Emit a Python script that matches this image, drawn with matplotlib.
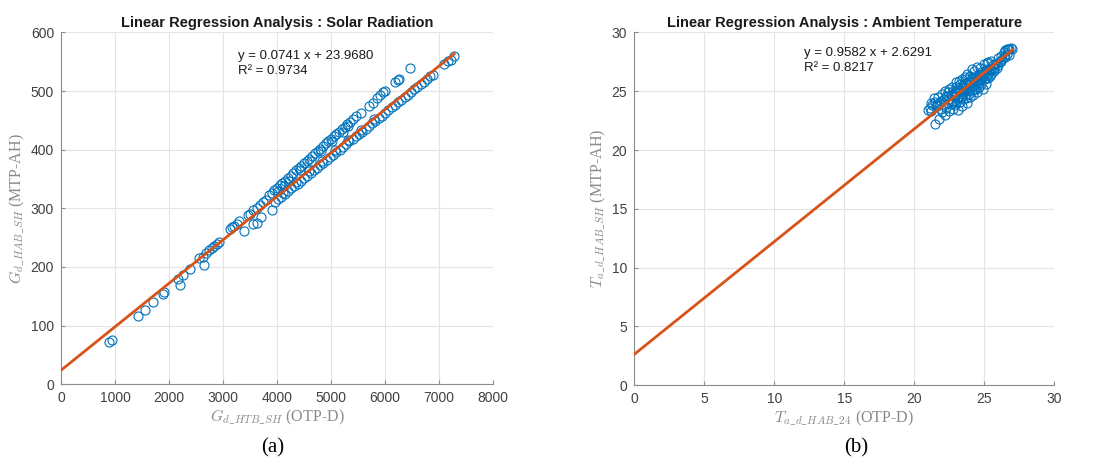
import numpy as np
import matplotlib
matplotlib.use('Agg')
import matplotlib.pyplot as plt

plt.rcParams['mathtext.fontset'] = 'cm'
plt.rcParams['font.family'] = ['Liberation Sans', 'DejaVu Sans']

# ── Data ─────────────────────────────────────────────────────────────────────
# (a) solar radiation: OTP-D (x) vs MTP-AH (y)
solar_x = [880, 940, 1420, 1560, 1700, 1880, 1900, 2160, 2200, 2250, 2380, 2640,
           3380, 3560, 3620, 3700, 3900,
           # upper streak
           2560, 2620, 2680, 2740, 2790, 2840, 2880, 2920, 3120, 3160, 3200, 3250,
           3300, 3460, 3500, 3560, 3620, 3680, 3740, 3790, 3850, 3900, 3950, 4000,
           4050, 4100, 4150, 4200, 4250, 4300, 4350, 4400, 4450, 4500, 4550, 4600,
           4650, 4700, 4750, 4800, 4850, 4900, 4950, 5000, 5050, 5100, 5150, 5200,
           5250, 5300, 5350, 5400, 5460, 5560, 5700, 5780, 5850, 5900, 5960, 6000,
           6180, 6240, 6260, 6460, 4020, 4120, 4220, 4420, 4620, 4820, 5020, 5220,
           5320,
           # lower streak
           3960, 4020, 4080, 4140, 4200, 4260, 4320, 4380, 4440, 4500, 4560, 4620,
           4680, 4740, 4800, 4860, 4920, 4980, 5040, 5100, 5160, 5220, 5280, 5340,
           5400, 5460, 5520, 5580, 5640, 5700, 5760, 5820, 5880, 5940, 6000, 6060,
           6120, 6180, 6240, 6300, 6360, 6420, 6480, 6540, 6600, 6660, 6720, 6780,
           6840, 6880, 7100, 7160, 7220, 7280, 4110, 4350, 4590, 4830, 5070, 5310,
           5550, 5790]
solar_y = [72, 76, 117, 127, 140, 154, 157, 180, 169, 187, 197, 203,
           261, 273, 275, 285, 298,
           215, 217, 224, 229, 232, 236, 239, 243, 264, 268, 270, 274,
           278, 288, 291, 297, 301, 305, 310, 314, 322, 327, 331, 334,
           339, 343, 347, 351, 356, 360, 365, 369, 373, 377, 381, 385,
           390, 394, 398, 402, 406, 411, 415, 419, 423, 427, 431, 435,
           439, 444, 448, 452, 457, 462, 474, 480, 489, 493, 498, 500,
           516, 519, 521, 539, 330, 338, 347, 365, 381, 398, 414, 431,
           440,
           311, 316, 320, 325, 329, 334, 338, 342, 347, 351, 356, 360,
           365, 369, 374, 378, 383, 387, 391, 396, 400, 405, 409, 414,
           418, 423, 427, 431, 436, 440, 445, 449, 454, 458, 463, 467,
           472, 476, 481, 485, 490, 494, 498, 503, 507, 512, 516, 521,
           525, 528, 546, 551, 553, 560, 327, 345, 363, 381, 399, 416,
           434, 452]
solar_slope, solar_icpt, solar_r2 = 0.0741, 23.9680, 0.9734

# (b) ambient temperature
temp_x = [21.0, 21.1, 21.2, 21.3, 21.4, 21.5, 21.5, 21.6, 21.7, 21.8, 21.8, 21.9,
          22.0, 22.0, 22.1, 22.2, 22.2, 22.3, 22.3, 22.4, 22.5, 22.5, 22.6, 22.6,
          22.7, 22.7, 22.8, 22.8, 22.9, 22.9, 23.0, 23.0, 23.0, 23.1, 23.1, 23.2,
          23.2, 23.3, 23.3, 23.4, 23.4, 23.4, 23.5, 23.5, 23.6, 23.6, 23.7, 23.7,
          23.8, 23.8, 23.8, 23.9, 23.9, 24.0, 24.0, 24.0, 24.1, 24.1, 24.2, 24.2,
          24.3, 24.3, 24.4, 24.4, 24.5, 24.5, 24.5, 24.6, 24.6, 24.7, 24.7, 24.8,
          24.8, 24.9, 24.9, 25.0, 25.0, 25.1, 25.1, 25.2, 25.2, 25.3, 25.4, 25.5,
          25.5, 25.6, 25.7, 25.8, 25.9, 26.0, 26.1, 26.2, 26.3, 26.4, 26.5, 26.6,
          26.7, 26.8, 26.9, 27.0, 26.6, 26.4, 25.3, 23.6, 24.3, 22.4, 23.9, 24.6,
          21.2, 21.6, 21.9, 22.1, 22.4, 22.6, 22.8, 23.0, 23.2, 23.3, 23.5, 23.6,
          23.7, 23.9, 24.0, 24.1, 24.2, 24.4, 24.5, 24.6, 24.7, 24.8, 25.0, 25.1,
          25.2, 25.3, 25.4, 25.6, 25.7, 25.9, 26.0, 26.2, 26.5, 26.8, 22.9, 23.4,
          24.3, 24.9, 25.5, 23.1]
temp_y = [23.4, 23.6, 23.3, 23.8, 24.4, 24.1, 22.2, 23.7, 24.5, 22.6, 24.0, 23.5,
          24.8, 23.2, 24.3, 23.0, 25.0, 24.6, 23.6, 24.0, 25.2, 23.3, 24.7, 23.9,
          25.4, 24.2, 23.5, 25.0, 24.5, 23.8, 25.8, 24.9, 24.0, 23.4, 25.3, 24.6,
          25.9, 24.1, 25.1, 26.0, 24.8, 23.7, 25.5, 24.3, 26.2, 25.0, 24.4, 25.7,
          26.5, 25.2, 24.0, 25.9, 24.8, 26.3, 25.4, 24.5, 26.9, 25.0, 26.1, 24.7,
          25.6, 26.7, 25.2, 26.2, 27.1, 25.8, 24.9, 26.5, 25.4, 26.0, 27.0, 25.6,
          26.6, 26.2, 25.2, 27.3, 26.0, 26.8, 25.6, 26.4, 27.4, 26.1, 26.9, 27.6,
          26.5, 27.0, 26.7, 27.3, 27.0, 27.8, 27.5, 28.0, 27.7, 28.3, 28.5, 28.2,
          28.6, 28.6, 28.7, 28.6, 28.6, 27.9, 27.5, 25.6, 25.9, 24.9, 25.1, 26.0,
          24.0, 23.9, 24.2, 23.8, 24.6, 24.3, 24.1, 25.4, 25.0, 25.6, 24.9, 25.3,
          26.0, 25.5, 25.1, 26.1, 25.4, 25.9, 26.3, 25.7, 26.4, 26.0, 26.5, 26.1,
          26.9, 26.6, 26.3, 27.2, 26.9, 27.4, 27.2, 27.6, 27.9, 28.1, 24.9, 24.5,
          25.2, 26.5, 26.8, 24.4]
temp_slope, temp_icpt, temp_r2 = 0.9582, 2.6291, 0.8217

panels = [
    dict(x=solar_x, y=solar_y, slope=solar_slope, icpt=solar_icpt, r2=solar_r2,
         title='Linear Regression Analysis : Solar Radiation',
         xlabel=r'$G_{d\_HTB\_SH}$ (OTP-D)', ylabel=r'$G_{d\_HAB\_SH}$ (MTP-AH)',
         xlim=(0, 8000), ylim=(0, 600), xticks=np.arange(0, 8001, 1000),
         yticks=np.arange(0, 601, 100), eq_pos=(3280, 570), tag='(a)',
         rect=[0.0558, 0.170, 0.3949, 0.760], tag_x=0.249),
    dict(x=temp_x, y=temp_y, slope=temp_slope, icpt=temp_icpt, r2=temp_r2,
         title='Linear Regression Analysis : Ambient Temperature',
         xlabel=r'$T_{a\_d\_HAB\_24}$ (OTP-D)', ylabel=r'$T_{a\_d\_HAB\_SH}$ (MTP-AH)',
         xlim=(0, 30), ylim=(0, 30), xticks=np.arange(0, 31, 5),
         yticks=np.arange(0, 31, 5), eq_pos=(12.1, 28.8), tag='(b)',
         rect=[0.5798, 0.168, 0.3839, 0.762], tag_x=0.783),
]

blue = '#0072BD'
orange = '#D95319'
tick_col = '#404040'
serif = ['Liberation Serif', 'DejaVu Serif']

fig = plt.figure(figsize=(10.94, 4.63), dpi=100)
for p in panels:
    ax = fig.add_axes(p['rect'])
    ax.plot(p['x'], p['y'], 'o', mfc='none', mec=blue, ms=6.5, mew=0.8, zorder=3)
    xl = np.array([0, max(p['x'])])
    ax.plot(xl, p['slope'] * xl + p['icpt'], color=orange, lw=2, zorder=4)

    ax.set_xlim(p['xlim']); ax.set_ylim(p['ylim'])
    ax.set_xticks(p['xticks']); ax.set_yticks(p['yticks'])
    ax.grid(True, color='#e4e4e4', lw=0.8)
    ax.set_axisbelow(True)
    for s in ('top', 'right'):
        ax.spines[s].set_visible(False)
    for s in ('left', 'bottom'):
        ax.spines[s].set_color('#8c8c8c')
        ax.spines[s].set_linewidth(0.8)
    ax.tick_params(direction='in', length=3, color='#8c8c8c', labelsize=10,
                   labelcolor=tick_col, pad=5)

    ax.set_title(p['title'], fontsize=10.5, fontweight='bold', color='#1a1a1a', pad=4)
    ax.set_xlabel(p['xlabel'], fontsize=11.5, color='#8a8a8a', family=serif, labelpad=2)
    ax.set_ylabel(p['ylabel'], fontsize=11.5, color='#8a8a8a', family=serif, labelpad=3)

    ex, ey = p['eq_pos']
    ax.text(ex, ey, f"y = {p['slope']:.4f} x + {p['icpt']:.4f}\nR² = {p['r2']:.4f}",
            fontsize=9.5, color='#1a1a1a', va='top', ha='left', linespacing=1.35)

    fig.text(p['tag_x'], 0.012, p['tag'], fontsize=15, family=serif,
             ha='center', va='bottom', color='black')

fig.savefig('out.png', dpi=100)
